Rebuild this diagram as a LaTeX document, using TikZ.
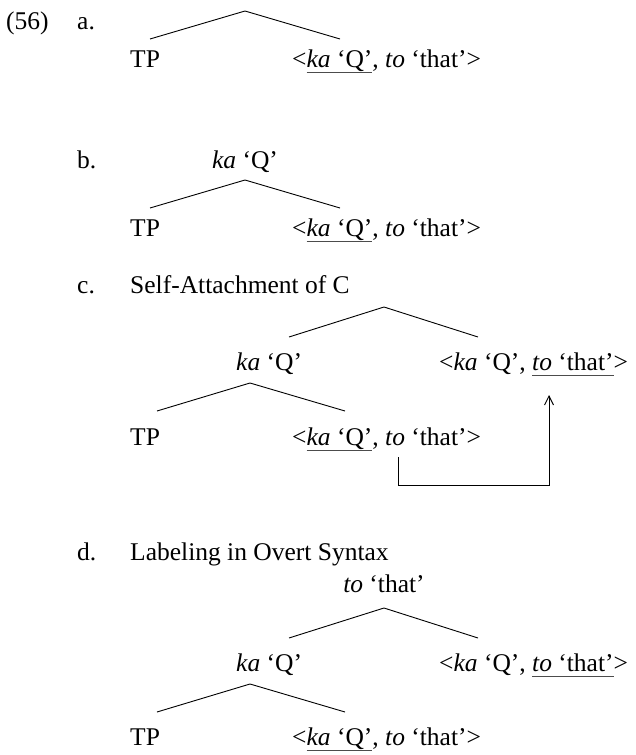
\documentclass[tikz,border=0pt]{standalone}
\usepackage{fontspec}
\setmainfont{Liberation Serif}
\usetikzlibrary{arrows.meta,calc}
\newcommand{\ulmark}[1]{\setbox0=\hbox{#1}\rlap{\color{black!70}\rule[-5.5pt]{\wd0}{1pt}}\box0}
\begin{document}
\begin{tikzpicture}[x=1pt,y=-1pt,
  txt/.style={inner sep=0pt, anchor=base west, font=\fontsize{25.5}{30}\selectfont},
  ctxt/.style={inner sep=0pt, anchor=base, font=\fontsize{25.5}{30}\selectfont},
  branch/.style={line width=0.9pt},
  link/.style={line width=0.9pt, -{Straight Barb[length=9pt,width=9pt,line width=0.9pt]}}]
\useasboundingbox (0,0) rectangle (635,755);

% (a)
\node[txt] (num) at (6,29) {(56)};
\node[txt] (la) at (77,29) {a.};
\coordinate (a-top) at (245,11);
\coordinate (a-l) at (150,39);
\coordinate (a-r) at (340,39);
\draw[branch] (a-l) -- (a-top) -- (a-r);
\node[txt] (a-tp) at (130,67) {TP};
\node[txt] (a-c) at (292,67) {<\ulmark{\textit{ka} ‘Q’}, \textit{to} ‘that’>};

% (b)
\node[txt] (lb) at (77,168) {b.};
\node[ctxt] (b-ka) at (245,168) {\textit{ka} ‘Q’};
\coordinate (b-top) at (245,180);
\coordinate (b-l) at (150,208);
\coordinate (b-r) at (340,208);
\draw[branch] (b-l) -- (b-top) -- (b-r);
\node[txt] (b-tp) at (130,236) {TP};
\node[txt] (b-c) at (292,236) {<\ulmark{\textit{ka} ‘Q’}, \textit{to} ‘that’>};

% (c)
\node[txt] (lc) at (77,293) {c.};
\node[txt] (lc-t) at (130,293) {Self-Attachment of C};
\coordinate (c-top) at (384,307);
\coordinate (c-l) at (289,337);
\coordinate (c-r) at (478,337);
\draw[branch] (c-l) -- (c-top) -- (c-r);
\node[txt] (c-ka) at (236,370) {\textit{ka} ‘Q’};
\node[txt] (c-uc) at (439,370) {<\textit{ka} ‘Q’, \ulmark{\textit{to} ‘that’}>};
\coordinate (c2-top) at (250,383);
\coordinate (c2-l) at (157,411);
\coordinate (c2-r) at (345,411);
\draw[branch] (c2-l) -- (c2-top) -- (c2-r);
\node[txt] (c-tp) at (130,445) {TP};
\node[txt] (c-lc) at (292,445) {<\ulmark{\textit{ka} ‘Q’}, \textit{to} ‘that’>};
\coordinate (arr-s) at (398,457);
\coordinate (arr-e) at (549,395);
\draw[link] (arr-s) -- ++(0,28) -| (arr-e);

% (d)
\node[txt] (ld) at (77,560) {d.};
\node[txt] (ld-t) at (130,560) {Labeling in Overt Syntax};
\node[ctxt] (d-to) at (384,592) {\textit{to} ‘that’};
\coordinate (d-top) at (384,608);
\coordinate (d-l) at (289,638);
\coordinate (d-r) at (478,638);
\draw[branch] (d-l) -- (d-top) -- (d-r);
\node[txt] (d-ka) at (236,671) {\textit{ka} ‘Q’};
\node[txt] (d-uc) at (439,671) {<\textit{ka} ‘Q’, \ulmark{\textit{to} ‘that’}>};
\coordinate (d2-top) at (250,684);
\coordinate (d2-l) at (157,712);
\coordinate (d2-r) at (345,712);
\draw[branch] (d2-l) -- (d2-top) -- (d2-r);
\node[txt] (d-tp) at (130,745) {TP};
\node[txt] (d-lc) at (292,745) {<\ulmark{\textit{ka} ‘Q’}, \textit{to} ‘that’>};
\end{tikzpicture}
\end{document}
